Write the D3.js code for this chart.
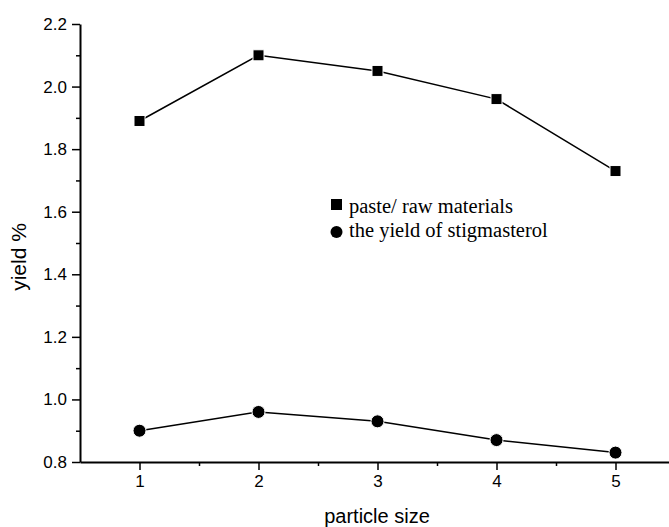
<!DOCTYPE html>
<html>
<head>
<meta charset="utf-8" />
<title>yield vs particle size</title>
<script src="https://d3js.org/d3.v7.min.js"></script>
<style>
  body { margin: 0; background: #ffffff; }
  svg text { fill: #000; }
</style>
</head>
<body>
<svg id="viz"></svg>
<script>
// data
var particleSize = [1, 2, 3, 4, 5];
var pasteRaw = [1.89, 2.10, 2.05, 1.96, 1.73];
var stigmasterol = [0.90, 0.96, 0.93, 0.87, 0.83];
var seriesNames = ["paste/ raw materials", "the yield of stigmasterol"];
var yTicks = [0.8, 1.0, 1.2, 1.4, 1.6, 1.8, 2.0, 2.2];
var xTicks = [1, 2, 3, 4, 5];

var width = 669, height = 527;

var svg = d3.select("#viz")
  .attr("width", width)
  .attr("height", height);

var x = d3.scaleLinear().domain([0.5, 5.5]).range([80, 675]);
var y = d3.scaleLinear().domain([0.8, 2.2]).range([462, 24]);

//minor ticks first (half steps)
var xMinor = d3.range(1.5, 5.5, 1);
var yMinor = d3.range(0.9, 2.2, 0.2);

svg.append("g")
  .attr("transform", "translate(0,462)")
  .call(d3.axisBottom(x).tickValues(xMinor).tickSize(4).tickFormat(""))
  .call(function(g){ g.select(".domain").remove(); })
  .selectAll("line").attr("stroke-width", 1.5);

svg.append("g")
  .attr("transform", "translate(80,0)")
  .call(d3.axisLeft(y).tickValues(yMinor).tickSize(4).tickFormat(""))
  .call(function(g){ g.select(".domain").remove(); })
  .selectAll("line").attr("stroke-width", 1.5);

//main axes
var xAxis = svg.append("g")
  .attr("transform", "translate(0,462)")
  .call(d3.axisBottom(x).tickValues(xTicks).tickSize(8).tickSizeOuter(0).tickPadding(5).tickFormat(d3.format("d")));

var yAxis = svg.append("g")
  .attr("transform", "translate(80,0)")
  .call(d3.axisLeft(y).tickValues(yTicks).tickSize(8).tickSizeOuter(0).tickPadding(5).tickFormat(d3.format(".1f")));

[xAxis, yAxis].forEach(function(g) {
  g.select(".domain").attr("stroke-width", 2);
  g.selectAll("line").attr("stroke-width", 1.5);
  g.selectAll("text")
    .style("font-family", "'Liberation Sans', Arial, sans-serif")
    .style("font-size", "17px");
});

// axis titles
svg.append("text")
  .attr("x", 377)
  .attr("y", 523)
  .attr("text-anchor", "middle")
  .style("font-family", "'Liberation Sans', Arial, sans-serif")
  .style("font-size", "20px")
  .text("particle size");

svg.append("text")
  .attr("transform", "translate(26,257) rotate(-90)")
  .attr("text-anchor", "middle")
  .style("font-family", "'Liberation Sans', Arial, sans-serif")
  .style("font-size", "21px")
  .text("yield %");

// lines
var line = d3.line()
  .x(function(d, i) { return x(particleSize[i]); })
  .y(function(d) { return y(d); });

svg.append("path")
  .datum(pasteRaw)
  .attr("d", line)
  .attr("fill", "none")
  .attr("stroke", "#000")
  .attr("stroke-width", 1.5);

svg.append("path")
  .datum(stigmasterol)
  .attr("d", line)
  .attr("fill", "none")
  .attr("stroke", "#000")
  .attr("stroke-width", 1.5);

// markers
svg.selectAll("rect.sq")
  .data(pasteRaw)
  .enter().append("rect")
  .attr("class", "sq")
  .attr("x", function(d, i) { return x(particleSize[i]) - 5.5; })
  .attr("y", function(d) { return y(d) - 5.5; })
  .attr("width", 11)
  .attr("height", 11)
  .attr("fill", "#000")
  .attr("stroke", "#fff")
  .attr("stroke-width", 1);

svg.selectAll("circle.ci")
  .data(stigmasterol)
  .enter().append("circle")
  .attr("class", "ci")
  .attr("cx", function(d, i) { return x(particleSize[i]); })
  .attr("cy", function(d) { return y(d); })
  .attr("r", 6.5)
  .attr("fill", "#000")
  .attr("stroke", "#fff")
  .attr("stroke-width", 1);

// legend
var legend = svg.append("g").attr("transform", "translate(331,213)");
var items = legend.selectAll("g")
  .data(seriesNames)
  .enter().append("g")
  .attr("transform", function(d, i) { return "translate(0," + i * 24 + ")"; });

items.filter(function(d, i){ return i === 0; })
  .append("rect")
  .attr("x", 0).attr("y", -14).attr("width", 11).attr("height", 11)
  .attr("fill", "#000");

items.filter(function(d, i){ return i === 1; })
  .append("circle")
  .attr("cx", 5.5).attr("cy", -5).attr("r", 6)
  .attr("fill", "#000");

items.append("text")
  .attr("x", 18)
  .attr("y", 0)
  .style("font-family", "'Liberation Serif', 'Times New Roman', serif")
  .style("font-size", "20.5px")
  .text(function(d) { return d; });
</script>
</body>
</html>
